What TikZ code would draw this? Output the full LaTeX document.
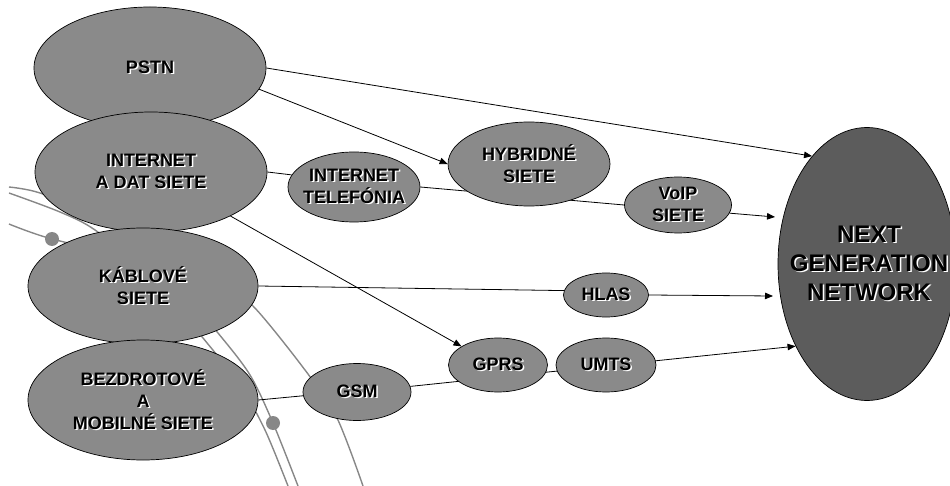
\documentclass[tikz,border=0pt]{standalone}
\usepackage{fontspec}
\setmainfont{Liberation Sans}
\usetikzlibrary{shapes.geometric,arrows.meta}
\pgfdeclarelayer{back}
\pgfdeclarelayer{lines}
\pgfsetlayers{back,lines,main}
\definecolor{ellgray}{RGB}{138,138,138}
\definecolor{ngngray}{RGB}{92,92,92}
\definecolor{arcgray}{RGB}{135,135,135}
\newcommand\shtxt[1]{\leavevmode\rlap{\hspace{1.5pt}\raisebox{-1.5pt}{\color{white}#1}}#1}
\tikzset{
  ell/.style={ellipse, draw=black, line width=0.7pt, fill=ellgray, inner sep=0pt},
  lbl/.style={inner sep=0pt, align=center, font=\bfseries\fontsize{18}{22}\selectfont},
  biglbl/.style={inner sep=0pt, align=center, font=\bfseries\fontsize{24}{29}\selectfont},
  conn/.style={draw=black, line width=0.8pt},
  arr/.style={-{Triangle[length=8pt,width=6.5pt]}},
  arcline/.style={draw=arcgray, line width=1.4pt},
  arcdot/.style={fill=arcgray, draw=none}
}
\begin{document}
\begin{tikzpicture}[x=1pt,y=-1pt]
\useasboundingbox (0,0) rectangle (950,486);
\clip (0,0) rectangle (950,486);

% background arcs
\begin{pgfonlayer}{back}
\draw[arcline] plot[smooth] coordinates {(9,187) (40,193) (100,218) (160,265) (218,333) (250,375) (273,423) (298,486)};
\draw[arcline] plot[smooth] coordinates {(9,193) (60,212) (95,230) (150,275) (203,338) (240,385) (265,430) (288,486)};
\draw[arcline] plot[smooth] coordinates {(9,224) (52,239) (150,262) (220,285) (253,306) (305,370) (337,418) (363,486)};
\fill[arcdot] (52,239) circle (7);
\fill[arcdot] (273,423) circle (7);
\end{pgfonlayer}

% nodes
\node[ell, minimum width=232, minimum height=122] (pstn) at (150,68) {};
\node[ell, minimum width=232, minimum height=120] (inet) at (151,172) {};
\node[ell, minimum width=230, minimum height=116] (kab) at (143,286) {};
\node[ell, minimum width=230, minimum height=120] (bez) at (143,400) {};
\node[ell, minimum width=132, minimum height=70] (tel) at (354,187) {};
\node[ell, minimum width=162, minimum height=84] (hyb) at (529,164) {};
\node[ell, minimum width=107, minimum height=56] (voip) at (678,205) {};
\node[ell, minimum width=85, minimum height=44] (hlas) at (606,295) {};
\node[ell, minimum width=99, minimum height=54] (gprs) at (498,365) {};
\node[ell, minimum width=100, minimum height=54] (umts) at (606,365) {};
\node[ell, minimum width=108, minimum height=57] (gsm) at (357,392) {};
\node[ell, fill=ngngray, minimum width=178, minimum height=273] (ngn) at (867,264) {};

% labels
\node[lbl] (pstnT) at (pstn) {\shtxt{PSTN}};
\node[lbl] (inetT) at (inet) {\shtxt{INTERNET}\\\shtxt{A DAT SIETE}};
\node[lbl] (kabT) at (kab) {\shtxt{KÁBLOVÉ}\\\shtxt{SIETE}};
\node[lbl] (bezT) at (bez) {\shtxt{BEZDROTOVÉ}\\\shtxt{A}\\\shtxt{MOBILNÉ SIETE}};
\node[lbl] (telT) at (tel) {\shtxt{INTERNET}\\\shtxt{TELEFÓNIA}};
\node[lbl] (hybT) at (hyb) {\shtxt{HYBRIDNÉ}\\\shtxt{SIETE}};
\node[lbl] (voipT) at (voip) {\shtxt{VoIP}\\\shtxt{SIETE}};
\node[lbl] (hlasT) at (hlas) {\shtxt{HLAS}};
\node[lbl] (gprsT) at (gprs) {\shtxt{GPRS}};
\node[lbl] (umtsT) at (umts) {\shtxt{UMTS}};
\node[lbl] (gsmT) at (gsm) {\shtxt{GSM}};
\node[biglbl] (ngnT) at ([xshift=2pt]ngn.center) {\shtxt{NEXT}\\\shtxt{GENERATION}\\\shtxt{NETWORK}};

\coordinate (voipEnd) at (775,217);
\coordinate (hlasEnd) at (773,296);

% connectors
\begin{pgfonlayer}{lines}
\draw[conn,arr] (pstn.east) -- (ngn.117);
\draw[conn,arr] (pstn.-11) -- (hyb.west);
\draw[conn] (inet.east) -- (tel.169);
\draw[conn] (tel.east) -- (voip.west);
\draw[conn,arr] (voip.-9) -- (voipEnd);
\draw[conn,arr] (inet.-29) -- (gprs.153);
\draw[conn] (kab.east) -- (hlas.174);
\draw[conn,arr] (hlas.east) -- (hlasEnd);
\draw[conn] (bez.east) -- (gsm.184);
\draw[conn,arr] (gsm.6) -- (ngn.229);
\end{pgfonlayer}
\end{tikzpicture}
\end{document}
